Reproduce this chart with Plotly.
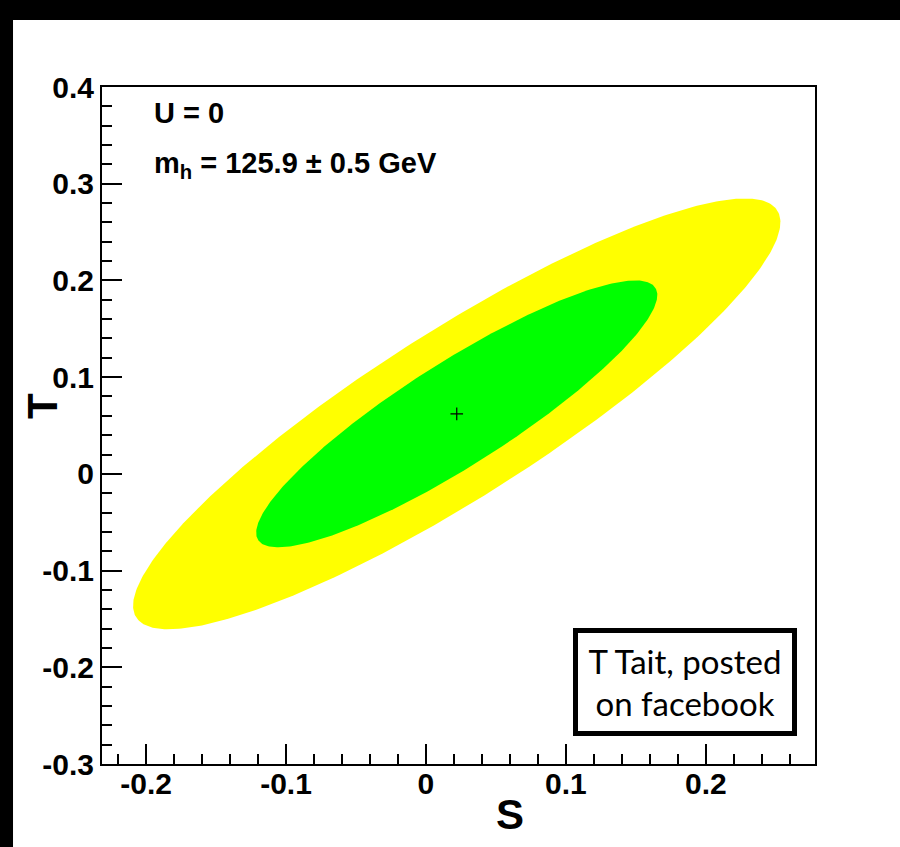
import numpy as np
import plotly.graph_objects as go

# Best-fit point in the (S, T) plane for U = 0
S_BEST = 0.022
T_BEST = 0.062
SIGMA_S = 0.0945
SIGMA_T = 0.0910
RHO_ST = 0.89

# Delta chi^2 levels of the filled contours (2 d.o.f.): 95% and 68% CL
CL_LEVELS = [5.99, 2.30]
CL_COLOURS = ["#FFFF00", "#00FF00"]

# Axis ticks
S_TICKS = [-0.2, -0.1, 0.0, 0.1, 0.2]
S_TICK_TEXT = ["-0.2", "-0.1", "0", "0.1", "0.2"]
T_TICKS = [-0.3, -0.2, -0.1, 0.0, 0.1, 0.2, 0.3, 0.4]
T_TICK_TEXT = ["-0.3", "-0.2", "-0.1", "0", "0.1", "0.2", "0.3", "0.4"]

S_RANGE = [-0.2315, 0.278]
T_RANGE = [-0.3, 0.4]


def contour(level, n=400):
    """Boundary of the Gaussian chi^2 ellipse at a given Delta chi^2."""
    cov = np.array([[SIGMA_S ** 2, RHO_ST * SIGMA_S * SIGMA_T],
                    [RHO_ST * SIGMA_S * SIGMA_T, SIGMA_T ** 2]])
    vals, vecs = np.linalg.eigh(cov)
    t = np.linspace(0, 2 * np.pi, n)
    circle = np.vstack([np.cos(t), np.sin(t)])
    pts = vecs @ (np.sqrt(vals * level)[:, None] * circle)
    return S_BEST + pts[0], T_BEST + pts[1]


fig = go.Figure()

for level, colour in zip(CL_LEVELS, CL_COLOURS):
    xs, ys = contour(level)
    fig.add_trace(go.Scatter(
        x=xs, y=ys, mode="lines", fill="toself", fillcolor=colour,
        line=dict(width=0, color=colour), hoverinfo="skip", showlegend=False,
    ))

fig.add_trace(go.Scatter(
    x=[S_BEST], y=[T_BEST], mode="markers",
    marker=dict(symbol="cross-thin", size=9, line=dict(width=1.2, color="black")),
    hoverinfo="skip", showlegend=False,
))

tick_font = dict(family="Liberation Sans", size=30, color="black", weight="bold")
axis_common = dict(
    showgrid=False, zeroline=False, showline=True, linecolor="black",
    linewidth=2, mirror=True, ticks="inside", ticklen=20, tickwidth=2,
    tickcolor="black", tickfont=tick_font, tickmode="array",
    minor=dict(ticks="inside", ticklen=10, tickwidth=1.5, tickcolor="black",
               tickmode="linear", tick0=0, dtick=0.02, showgrid=False),
)

fig.update_xaxes(range=S_RANGE, tickvals=S_TICKS, ticktext=S_TICK_TEXT,
                 ticklabelstandoff=-8, **axis_common)
fig.update_yaxes(range=T_RANGE, tickvals=T_TICKS, ticktext=T_TICK_TEXT,
                 ticklabelstandoff=0, **axis_common)

bold = dict(family="Liberation Sans", color="black", weight="bold")

annotations = [
    dict(text="U = 0", x=0.07, y=0.9616, xanchor="left", yanchor="middle",
         font=dict(size=29, **bold)),
    dict(text="m<sub>h</sub> = 125.9 ± 0.5 GeV", x=0.07, y=0.885,
         xanchor="left", yanchor="middle", font=dict(size=29, **bold)),
    dict(text="S", x=0.572, y=-0.0753, xanchor="center", yanchor="middle",
         font=dict(size=42, **bold)),
    dict(text="T", x=-0.0842, y=0.5288, xanchor="center", yanchor="middle",
         textangle=-90, font=dict(size=42, **bold)),
    dict(text="T Tait, posted<br>on facebook", x=0.8177, y=0.1211,
         xanchor="center", yanchor="middle", align="center",
         width=214, height=98, borderpad=0, borderwidth=5,
         bordercolor="black", bgcolor="white",
         font=dict(family="Lato", size=33, color="black")),
]
for a in annotations:
    a.setdefault("xref", "paper")
    a.setdefault("yref", "paper")
    a["showarrow"] = False

# Dark frame bands along the left and top edges of the page
shapes = [
    dict(type="rect", xref="paper", yref="paper", x0=-0.2, x1=-0.1248,
         y0=-0.2, y1=1.2, fillcolor="black", line=dict(width=0)),
    dict(type="rect", xref="paper", yref="paper", x0=-0.2, x1=1.2,
         y0=1.099, y1=1.2, fillcolor="black", line=dict(width=0)),
]

fig.update_layout(
    width=900, height=847, autosize=False,
    margin=dict(l=102, r=85, t=87, b=83),
    plot_bgcolor="white", paper_bgcolor="white",
    annotations=annotations, shapes=shapes, showlegend=False,
)

fig.write_html("out.html")
